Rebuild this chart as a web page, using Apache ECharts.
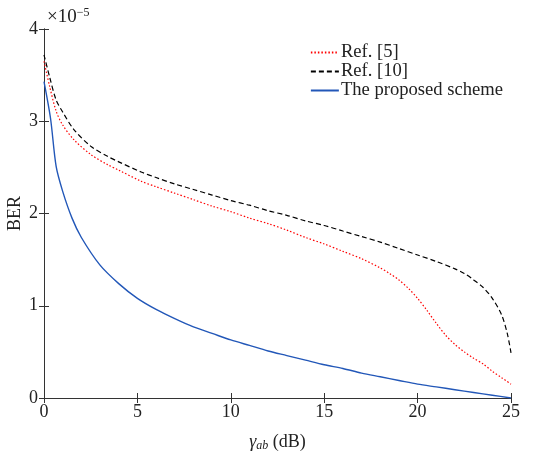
<!DOCTYPE html>
<html>
<head>
<meta charset="utf-8">
<script src="https://cdn.jsdelivr.net/npm/echarts@6/dist/echarts.min.js"></script>
<style>
  html, body { margin: 0; padding: 0; background: #fff; }
  #main { width: 543px; height: 452px; }
</style>
</head>
<body>
<div id="main"></div>
<script>
// BER values are in units of 1e-5 (see the ×10^-5 label)
const seriesNames = ["Ref. [5]", "Ref. [10]", "The proposed scheme"];

const ref5 = [
  [0, 3.65], [0.3, 3.38], [0.65, 3.11], [1, 2.96], [1.6, 2.8], [2.5, 2.64], [3.4, 2.53],
  [4, 2.47], [5.2, 2.35], [6, 2.29], [7, 2.22], [8, 2.15], [9, 2.08], [10, 2.02],
  [11, 1.95], [12, 1.89], [13, 1.82], [14, 1.74], [15, 1.67], [16, 1.59], [17, 1.51],
  [18, 1.41], [18.5, 1.35], [19, 1.28], [19.5, 1.19], [20, 1.08], [20.5, 0.95], [21, 0.81],
  [21.5, 0.68], [22, 0.58], [22.5, 0.5], [23, 0.43], [23.5, 0.37], [24, 0.29], [24.5, 0.22], [25, 0.15]
];

const ref10 = [
  [0, 3.72], [0.3, 3.48], [0.65, 3.23], [1, 3.1], [1.6, 2.91], [2.5, 2.73], [3.4, 2.62],
  [4, 2.56], [5.2, 2.45], [6, 2.39], [7, 2.32], [8, 2.26], [9, 2.2], [10, 2.14],
  [11, 2.09], [12, 2.03], [13, 1.98], [14, 1.92], [15, 1.87], [16, 1.81], [17, 1.75],
  [18, 1.69], [19, 1.62], [20, 1.55], [21, 1.48], [22, 1.4], [22.5, 1.35], [23, 1.28],
  [23.5, 1.2], [24, 1.08], [24.5, 0.9], [24.8, 0.7], [25, 0.49]
];

const proposed = [
  [0, 3.43], [0.35, 3.03], [0.65, 2.51], [1, 2.24], [1.5, 1.95], [2, 1.74],
  [3, 1.44], [4, 1.24], [5, 1.08], [6, 0.96], [7, 0.86], [8, 0.77], [9, 0.7], [10, 0.63],
  [11, 0.57], [12, 0.51], [13, 0.46], [14, 0.41], [15, 0.36], [16, 0.32], [17, 0.27],
  [18, 0.23], [19, 0.19], [20, 0.15], [21, 0.12], [22, 0.09], [23, 0.06], [24, 0.03], [25, 0]
];

const xTicks = [0, 5, 10, 15, 20, 25];
const yTicks = [0, 1, 2, 3, 4];

const font = "'Liberation Serif', 'Times New Roman', serif";
const axisColor = "#333";
const textColor = "#222";

let chart = echarts.init(document.getElementById("main"), null, { renderer: "canvas" });

chart.setOption({
  animation: false,
  backgroundColor: "#fff",
  textStyle: { fontFamily: font },
  grid: { left: 44, right: 32, top: 29, bottom: 54, containLabel: false, outerBoundsMode: "none" },
  title: {
    text: "×10{sup|−5}",
    left: 42,
    top: 2,
    textStyle: {
      fontFamily: font, fontSize: 19, fontWeight: "normal", color: textColor,
      rich: { sup: { fontFamily: font, fontSize: 12, color: textColor, verticalAlign: "top", padding: [0, 0, 9, 0] } }
    }
  },
  legend: {
    right: 35,
    top: 38,
    orient: "vertical",
    itemWidth: 28,
    itemHeight: 10,
    itemGap: 0,
    data: seriesNames,
    itemStyle: { opacity: 0 },
    textStyle: { fontFamily: font, fontSize: 18.6, lineHeight: 19, color: textColor, padding: [0, 0, 0, -3] }
  },
  xAxis: [
    {
      type: "value", min: xTicks[0], max: xTicks[xTicks.length - 1], interval: 5,
      name: "{g|γ}{s|ab} (dB)",
      nameLocation: "middle",
      nameGap: 34,
      nameMoveOverlap: false,
      nameTextStyle: {
        fontFamily: font, fontSize: 18, color: textColor,
        rich: {
          g: { fontFamily: font, fontSize: 18, fontStyle: "italic", color: textColor },
          s: { fontFamily: font, fontSize: 12, fontStyle: "italic", color: textColor, verticalAlign: "bottom", padding: [8, 0, 0, 0] }
        }
      },
      axisLine: { show: true, lineStyle: { color: axisColor, width: 1 } },
      axisTick: { inside: true, length: 5, lineStyle: { color: axisColor } },
      axisLabel: { fontFamily: font, fontSize: 18, color: textColor, margin: 5 },
      splitLine: { show: false }
    },
    {
      type: "value", min: xTicks[0], max: xTicks[xTicks.length - 1], interval: 5, position: "top",
      axisLine: { show: true, lineStyle: { color: axisColor, width: 1 } },
      axisTick: { inside: true, length: 5, lineStyle: { color: axisColor } },
      axisLabel: { show: false },
      splitLine: { show: false }
    }
  ],
  yAxis: [
    {
      type: "value", min: yTicks[0], max: yTicks[yTicks.length - 1], interval: 1,
      name: "BER",
      nameLocation: "middle",
      nameGap: 20,
      nameMoveOverlap: false,
      nameTextStyle: { fontFamily: font, fontSize: 18, color: textColor },
      axisLine: { show: true, lineStyle: { color: axisColor, width: 1 } },
      axisTick: { inside: true, length: 5, lineStyle: { color: axisColor } },
      axisLabel: { fontFamily: font, fontSize: 18, color: textColor, margin: 6 },
      splitLine: { show: false }
    },
    {
      type: "value", min: yTicks[0], max: yTicks[yTicks.length - 1], interval: 1, position: "right",
      axisLine: { show: true, lineStyle: { color: axisColor, width: 1 } },
      axisTick: { inside: true, length: 5, lineStyle: { color: axisColor } },
      axisLabel: { show: false },
      splitLine: { show: false }
    }
  ],
  series: [
    {
      name: seriesNames[0], type: "line", data: ref5, smooth: 0.3,
      symbol: "none",
      lineStyle: { color: "#ff0000", width: 1.2, type: [1.5, 2] },
      itemStyle: { color: "#ff0000" }
    },
    {
      name: seriesNames[1], type: "line", data: ref10, smooth: 0.3,
      symbol: "none",
      lineStyle: { color: "#000", width: 1.2, type: [5, 3] },
      itemStyle: { color: "#000" }
    },
    {
      name: seriesNames[2], type: "line", data: proposed, smooth: 0.3,
      symbol: "none",
      lineStyle: { color: "#2257b8", width: 1.4 },
      itemStyle: { color: "#2257b8" }
    }
  ]
});
</script>
</body>
</html>
